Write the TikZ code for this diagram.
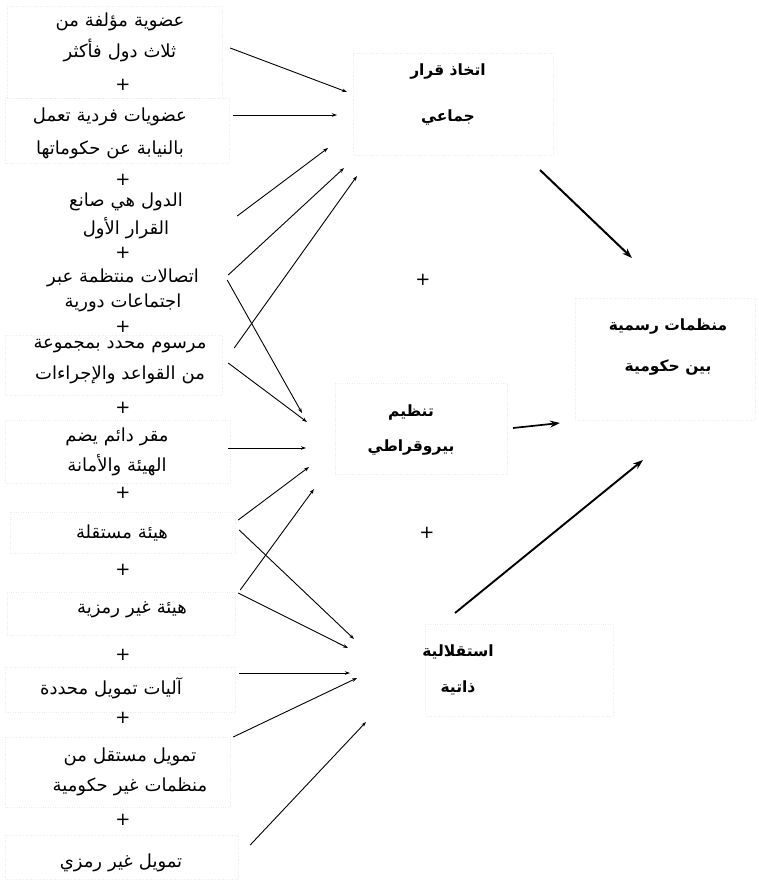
\documentclass[tikz,border=0pt]{standalone}
\usepackage{fontspec}
\newfontfamily\arabicfont[Script=Arabic]{DejaVu Sans}
\TeXXeTstate=1
\usetikzlibrary{arrows.meta,calc}
\newcommand{\artxt}[1]{\beginR #1\endR}

\begin{document}
\begin{tikzpicture}[x=1pt,y=-1pt,
  item/.style={font=\arabicfont\fontsize{18}{30}\selectfont,text width=216pt,align=center,inner sep=0pt},
  head/.style={font=\arabicfont\bfseries\fontsize{15.5}{36}\selectfont,align=center,inner sep=0pt},
  plus/.style={font=\arabicfont\fontsize{18}{18}\selectfont,inner sep=0pt},
  frame/.style={draw=gray!16,dotted,line width=0.4pt},
  arr/.style={-{Stealth[length=5pt,width=3.5pt]},line width=0.9pt},
  big/.style={-{Stealth[length=10pt,width=7pt]},line width=2pt}
]
\useasboundingbox (0,0) rectangle (759,881);

% faint frames of the text boxes
\foreach \xa/\ya/\xb/\yb in {7/6/222/98, 5/98/229/163, 5/335/222/395, 5/420/230/483,
    10/512/235/553, 7/592/235/635, 5/667/235/712, 5/737/230/807, 5/835/238/879,
    353/53/553/155, 575/298/755/420, 335/383/507/474, 425/624/613/716}
  \draw[frame] (\xa,\ya) rectangle (\xb,\yb);

% left column
\node[item] (mem) at (120,37) {\artxt{عضوية مؤلفة من}\\[1pt]\artxt{ثلاث دول فأكثر}};
\node[plus] (p1) at (123,85) {+};
\node[item] (indiv) at (110,133) {\artxt{عضويات فردية تعمل}\\[3pt]\artxt{بالنيابة عن حكوماتها}};
\node[plus] (p2) at (123,180) {+};
\node[item] (states) at (126,216) {\artxt{الدول هي صانع}\\[-2pt]\artxt{القرار الأول}};
\node[plus] (p3) at (123,253) {+};
\node[item] (contacts) at (123,290) {\artxt{اتصالات منتظمة عبر}\\[-5pt]\artxt{اجتماعات دورية}};
\node[plus] (p4) at (123,327) {+};
\node[item] (decree) at (120,362) {\artxt{مرسوم محدد بمجموعة}\\[1pt]\artxt{من القواعد والإجراءات}};
\node[plus] (p5) at (123,408) {+};
\node[item] (seat) at (117,452) {\artxt{مقر دائم يضم}\\\artxt{الهيئة والأمانة}};
\node[plus] (p6) at (123,493) {+};
\node[item] (body) at (122,533) {\artxt{هيئة مستقلة}};
\node[plus] (p7) at (123,570) {+};
\node[item] (nontok) at (132,610) {\artxt{هيئة غير رمزية}};
\node[plus] (p8) at (123,655) {+};
\node[item] (mech) at (111,688) {\artxt{آليات تمويل محددة}};
\node[plus] (p9) at (123,718) {+};
\node[item] (ngofund) at (130,772) {\artxt{تمويل مستقل من}\\\artxt{منظمات غير حكومية}};
\node[plus] (p10) at (123,820) {+};
\node[item] (realfund) at (121,863) {\artxt{تمويل غير رمزي}};

% middle and right
\node[head] (dec) at (448,95) {\artxt{اتخاذ قرار}\\[10pt]\artxt{جماعي}};
\node[plus] (q1) at (423,280) {+};
\node[head] (bur) at (411,430) {\artxt{تنظيم}\\[-1pt]\artxt{بيروقراطي}};
\node[plus] (q2) at (427,533) {+};
\node[head] (aut) at (458,670) {\artxt{استقلالية}\\\artxt{ذاتية}};
\node[head] (org) at (668,347) {\artxt{منظمات رسمية}\\[5pt]\artxt{بين حكومية}};

% into collective decision
\draw[arr] ($(mem.east)+(2,11)$) -- ($(dec)+(-101,-3)$);
\draw[arr] ($(indiv.east)+(15,-18)$) -- ($(dec)+(-111,20)$);
\draw[arr] ($(states.east)+(3,0)$) -- ($(dec)+(-120,53)$);
\draw[arr] ($(contacts.east)+(-3,-15)$) -- ($(dec)+(-104,73)$);
\draw[arr] ($(decree.east)+(6,-14)$) -- ($(dec)+(-91,81)$);

% into bureaucracy
\draw[arr] ($(contacts.east)+(-4,-10)$) -- ($(bur)+(-109,-17)$);
\draw[arr] ($(decree.east)+(0,1)$) -- ($(bur)+(-104,-8)$);
\draw[arr] ($(seat.east)+(3,-4)$) -- ($(bur)+(-105,18)$);
\draw[arr] ($(body.east)+(8,-13)$) -- ($(bur)+(-102,37)$);
\draw[arr] ($(nontok.east)+(0,-20)$) -- ($(bur)+(-97,59)$);

% into autonomy
\draw[arr] ($(body.east)+(9,-3)$) -- ($(aut)+(-104,-31)$);
\draw[arr] ($(nontok.east)+(-2,-17)$) -- ($(aut)+(-110,-22)$);
\draw[arr] ($(mech.east)+(20,-15)$) -- ($(aut)+(-108,3)$);
\draw[arr] ($(ngofund.east)+(-5,-35)$) -- ($(aut)+(-101,8)$);
\draw[arr] ($(realfund.east)+(21,-18)$) -- ($(aut)+(-92,52)$);

% into the organisation
\draw[big] ($(dec)+(92,75)$) -- ($(org)+(-36,-89)$);
\draw[big,line width=1.7pt] ($(bur)+(102,-2)$) -- ($(org)+(-108,76)$);
\draw[big,line width=1.9pt] ($(aut)+(-3,-57)$) -- ($(org)+(-25,113)$);
\end{tikzpicture}
\end{document}
